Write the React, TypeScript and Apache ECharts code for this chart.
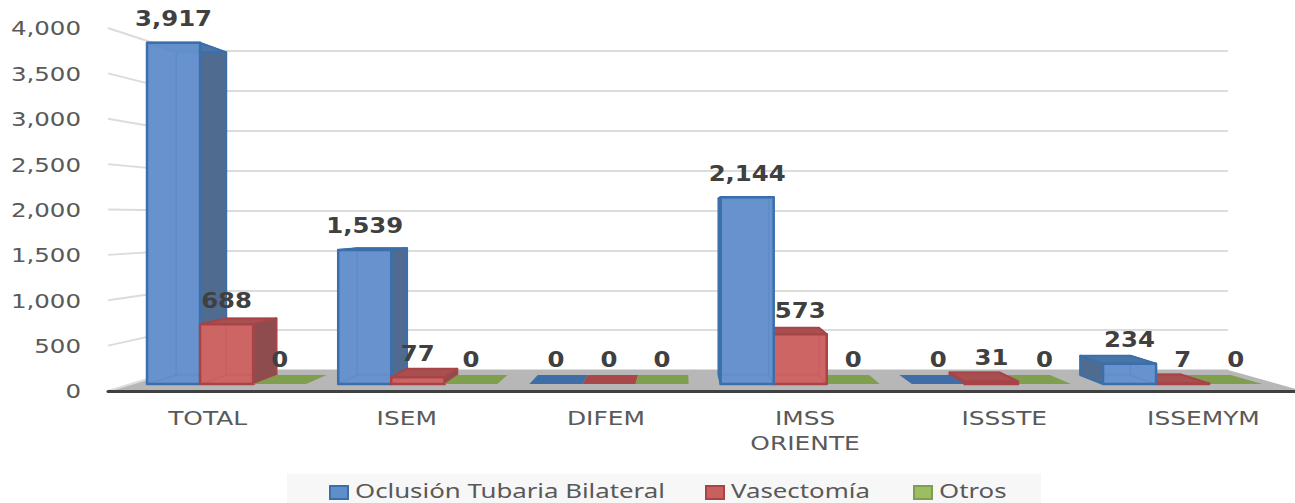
import React, { useEffect, useRef } from "react";
import * as echarts from "echarts";

const categories = ["TOTAL", "ISEM", "DIFEM", "IMSS\nORIENTE", "ISSSTE", "ISSEMYM"];
const oclusion = [3917, 1539, 0, 2144, 0, 234];
const vasectomia = [688, 77, 0, 573, 31, 7];
const otros = [0, 0, 0, 0, 0, 0];
const yTicks = [0, 500, 1000, 1500, 2000, 2500, 3000, 3500, 4000];
const seriesNames = ["Oclusión Tubaria Bilateral", "Vasectomía", "Otros"];
const fmt = (v: number) => v.toLocaleString("en-US");

const VX = 683, VY = 218, K_FRONT = 0.96, K_BACK = 0.908, K_WALL = 0.879;
const BAR_FRAC = 0.2775;
const P = (x: number, y: number, k: number) => [VX + (x - VX) * k, VY + (y - VY) * k];

type Palette = { front: string; back: string; side: string; top: string; stroke: string; flat: string; inner: string };
const BLUE: Palette = { front: "rgba(106,150,210,0.82)", back: "#5a82b6", side: "#4f6c90", top: "#4a74a6", stroke: "#3b6fab", flat: "#3f6ea6", inner: "#2f6098" };
const RED: Palette = { front: "rgba(212,104,102,0.82)", back: "#a85a5a", side: "#8f4c4e", top: "#a84f50", stroke: "#a84448", flat: "#a8484a", inner: "#94383c" };
const GREEN: Palette = { front: "rgba(160,192,98,0.82)", back: "#7f9f4f", side: "#70873f", top: "#7f9f4f", stroke: "#7f9f4f", flat: "#7f9f4f", inner: "#7f9f4f" };

const stretched = (text: string, x: number, y: number, font: string, fill: string, scaleX: number, align: string, z2: number) => ({
  type: "text", x, y, scaleX, z2, silent: true,
  style: { text, font, fill, textAlign: align, textVerticalAlign: "middle", verticalAlign: "middle" },
});

function barRenderer(seriesIndex: number, pal: Palette) {
  return (_params: any, api: any) => {
    const i = api.value(0), v = api.value(1);
    const [cx, Y] = api.coord([i, v]);
    const [, Y0] = api.coord([i, 0]);
    const w = api.size([1, 0])[0] * BAR_FRAC;
    const xl = cx + (seriesIndex - 1.5) * w, xr = xl + w;
    const z = (i >= 3 ? 2 - seriesIndex : seriesIndex) * 10 + 10;
    const poly = (points: number[][], fill: string, stroke: string, lw: number, zz: number) => ({
      type: "polygon", z2: z + zz, silent: true,
      shape: { points },
      style: { fill, stroke, lineWidth: lw, lineJoin: "round" },
    });
    const ftl = P(xl, Y, K_FRONT), ftr = P(xr, Y, K_FRONT), fbl = P(xl, Y0, K_FRONT), fbr = P(xr, Y0, K_FRONT);
    const btl = P(xl, Y, K_BACK), btr = P(xr, Y, K_BACK), bbl = P(xl, Y0, K_BACK), bbr = P(xr, Y0, K_BACK);
    const children: any[] = [];
    if (v === 0) {
      children.push(poly([fbl, fbr, bbr, bbl], pal.flat, "none", 0, 1));
    } else {
      const rightOuter = xr * K_FRONT + VX * (1 - K_FRONT) < VX;
      const outer = rightOuter ? [ftr, btr, bbr, fbr] : [ftl, btl, bbl, fbl];
      const inner = rightOuter ? [ftl, btl, bbl, fbl] : [ftr, btr, bbr, fbr];
      children.push(poly([btl, btr, bbr, bbl], pal.back, pal.inner, 1.5, 1));
      children.push(poly([fbl, fbr, bbr, bbl], pal.back, pal.inner, 1, 2));
      children.push(poly(inner, pal.back, pal.inner, 1.5, 3));
      children.push(poly(outer, pal.side, pal.stroke, 2, 4));
      children.push(poly([ftl, ftr, btr, btl], pal.top, pal.stroke, 2, 5));
      children.push(poly([ftl, ftr, fbr, fbl], pal.front, pal.stroke, 2.5, 6));
    }
    const lx = (ftl[0] + ftr[0]) / 2;
    children.push(stretched(fmt(v), lx, ftl[1] - 24, "bold 21px 'DejaVu Sans'", "#404040", 1.16, "center", 200));
    return { type: "group", children };
  };
}

const legendFont = "20px 'Noto Sans'";
const legendIcons = [
  { x: 330, fill: "#5f8fcb", stroke: "#3b6fab", textX: 355 },
  { x: 706, fill: "#c9605e", stroke: "#a84448", textX: 731 },
  { x: 914, fill: "#9dbd61", stroke: "#7f9f4f", textX: 939 },
];

export default function App() {
  const ref = useRef<HTMLDivElement>(null);
  useEffect(() => {
    document.body.style.margin = "0";
    const chart = echarts.init(ref.current!, undefined, { renderer: "svg" });
    const values = [oclusion, vasectomia, otros];
    const pals = [BLUE, RED, GREEN];
    chart.setOption({
      animation: false,
      backgroundColor: "#ffffff",
      grid: [
        { left: 108, top: 28, width: 1195, height: 363 },
        { left: 178, top: 51, width: 1050, height: 319 },
      ],
      xAxis: [
        {
          type: "category", gridIndex: 0, data: categories, z: 5,
          axisLine: { lineStyle: { color: "#404040", width: 3 } },
          axisTick: { show: false }, axisLabel: { show: false },
        },
        { type: "value", gridIndex: 1, show: false, min: 0, max: 1 },
      ],
      yAxis: [
        {
          type: "value", gridIndex: 0, min: 0, max: 4000, interval: 500,
          axisLine: { show: false }, axisTick: { show: false }, axisLabel: { show: false }, splitLine: { show: false },
        },
        {
          type: "value", gridIndex: 1, min: 0, max: 4000, interval: 500,
          axisLine: { show: false }, axisTick: { show: false }, axisLabel: { show: false },
          splitLine: { lineStyle: { color: "#dcdcdc", width: 2 } },
        },
      ],
      graphic: [
        { type: "rect", silent: true, shape: { x: 287, y: 474, width: 754, height: 29 }, style: { fill: "#f7f7f7" } },
        ...legendIcons.flatMap((l, k) => [
          { type: "rect", silent: true, shape: { x: l.x, y: 486, width: 18, height: 13 }, style: { fill: l.fill, stroke: l.stroke, lineWidth: 2 } },
          {
            type: "text", silent: true, x: l.textX, y: 490.5, scaleX: 1.29,
            style: { text: seriesNames[k], font: legendFont, fill: "#595959", textAlign: "left", textVerticalAlign: "middle", verticalAlign: "middle" },
          },
        ]),
      ],
      series: [
        {
          type: "custom", name: "floor", z: 1, xAxisIndex: 0, yAxisIndex: 0, silent: true,
          data: [[0, 0]], encode: { x: 0, y: 1 },
          renderItem: (_p: any, api: any) => {
            const band = api.size([1, 0])[0];
            const [x0, Y0] = api.coord([0, 0]);
            const [x1] = api.coord([categories.length - 1, 0]);
            const l = x0 - band / 2, r = x1 + band / 2;
            return {
              type: "polygon",
              shape: { points: [[l, Y0], [r, Y0], P(r, Y0, K_WALL), P(l, Y0, K_WALL)] },
              style: { fill: "#b7b7b7" },
            };
          },
        },
        {
          type: "custom", name: "wall", z: 1, xAxisIndex: 0, yAxisIndex: 0, silent: true,
          data: yTicks.map((t) => [0, t]), encode: { x: 0, y: 1 },
          renderItem: (_p: any, api: any) => {
            const band = api.size([1, 0])[0];
            const [x0, Y] = api.coord([0, api.value(1)]);
            const l = x0 - band / 2;
            const e = P(l, Y, K_WALL);
            return {
              type: "group",
              children: [
                { type: "line", shape: { x1: l, y1: Y, x2: e[0], y2: e[1] }, style: { stroke: "#dcdcdc", lineWidth: 2 } },
                stretched(fmt(api.value(1)), 81, Y + 1, "19px 'DejaVu Sans'", "#595959", 1.29, "right", 1),
              ],
            };
          },
        },
        {
          type: "custom", name: "categoryLabels", z: 1, xAxisIndex: 0, yAxisIndex: 0, silent: true,
          data: categories.map((_c, i) => [i, 0]), encode: { x: 0, y: 1 },
          renderItem: (_p: any, api: any) => {
            const i = api.value(0);
            const [x, Y] = api.coord([i, 0]);
            const lines = categories[i].split("\n");
            return {
              type: "group",
              children: lines.map((t, n) => stretched(t, x, Y + 27 + n * 25, "19px 'DejaVu Sans'", "#595959", 1.31, "center", 1)),
            };
          },
        },
        ...seriesNames.map((name, k) => ({
          type: "custom", name, z: 2, xAxisIndex: 0, yAxisIndex: 0, silent: true,
          itemStyle: { color: legendIcons[k].fill },
          data: values[k].map((v, i) => [i, v]), encode: { x: 0, y: 1 },
          renderItem: barRenderer(k, pals[k]),
        })),
      ],
    });
    return () => chart.dispose();
  }, []);
  return (
    <div style={{ position: "absolute", left: 0, top: 0, width: 1295, height: 503, overflow: "hidden" }}>
      <div ref={ref} style={{ width: 1320, height: 503 }} />
    </div>
  );
}
